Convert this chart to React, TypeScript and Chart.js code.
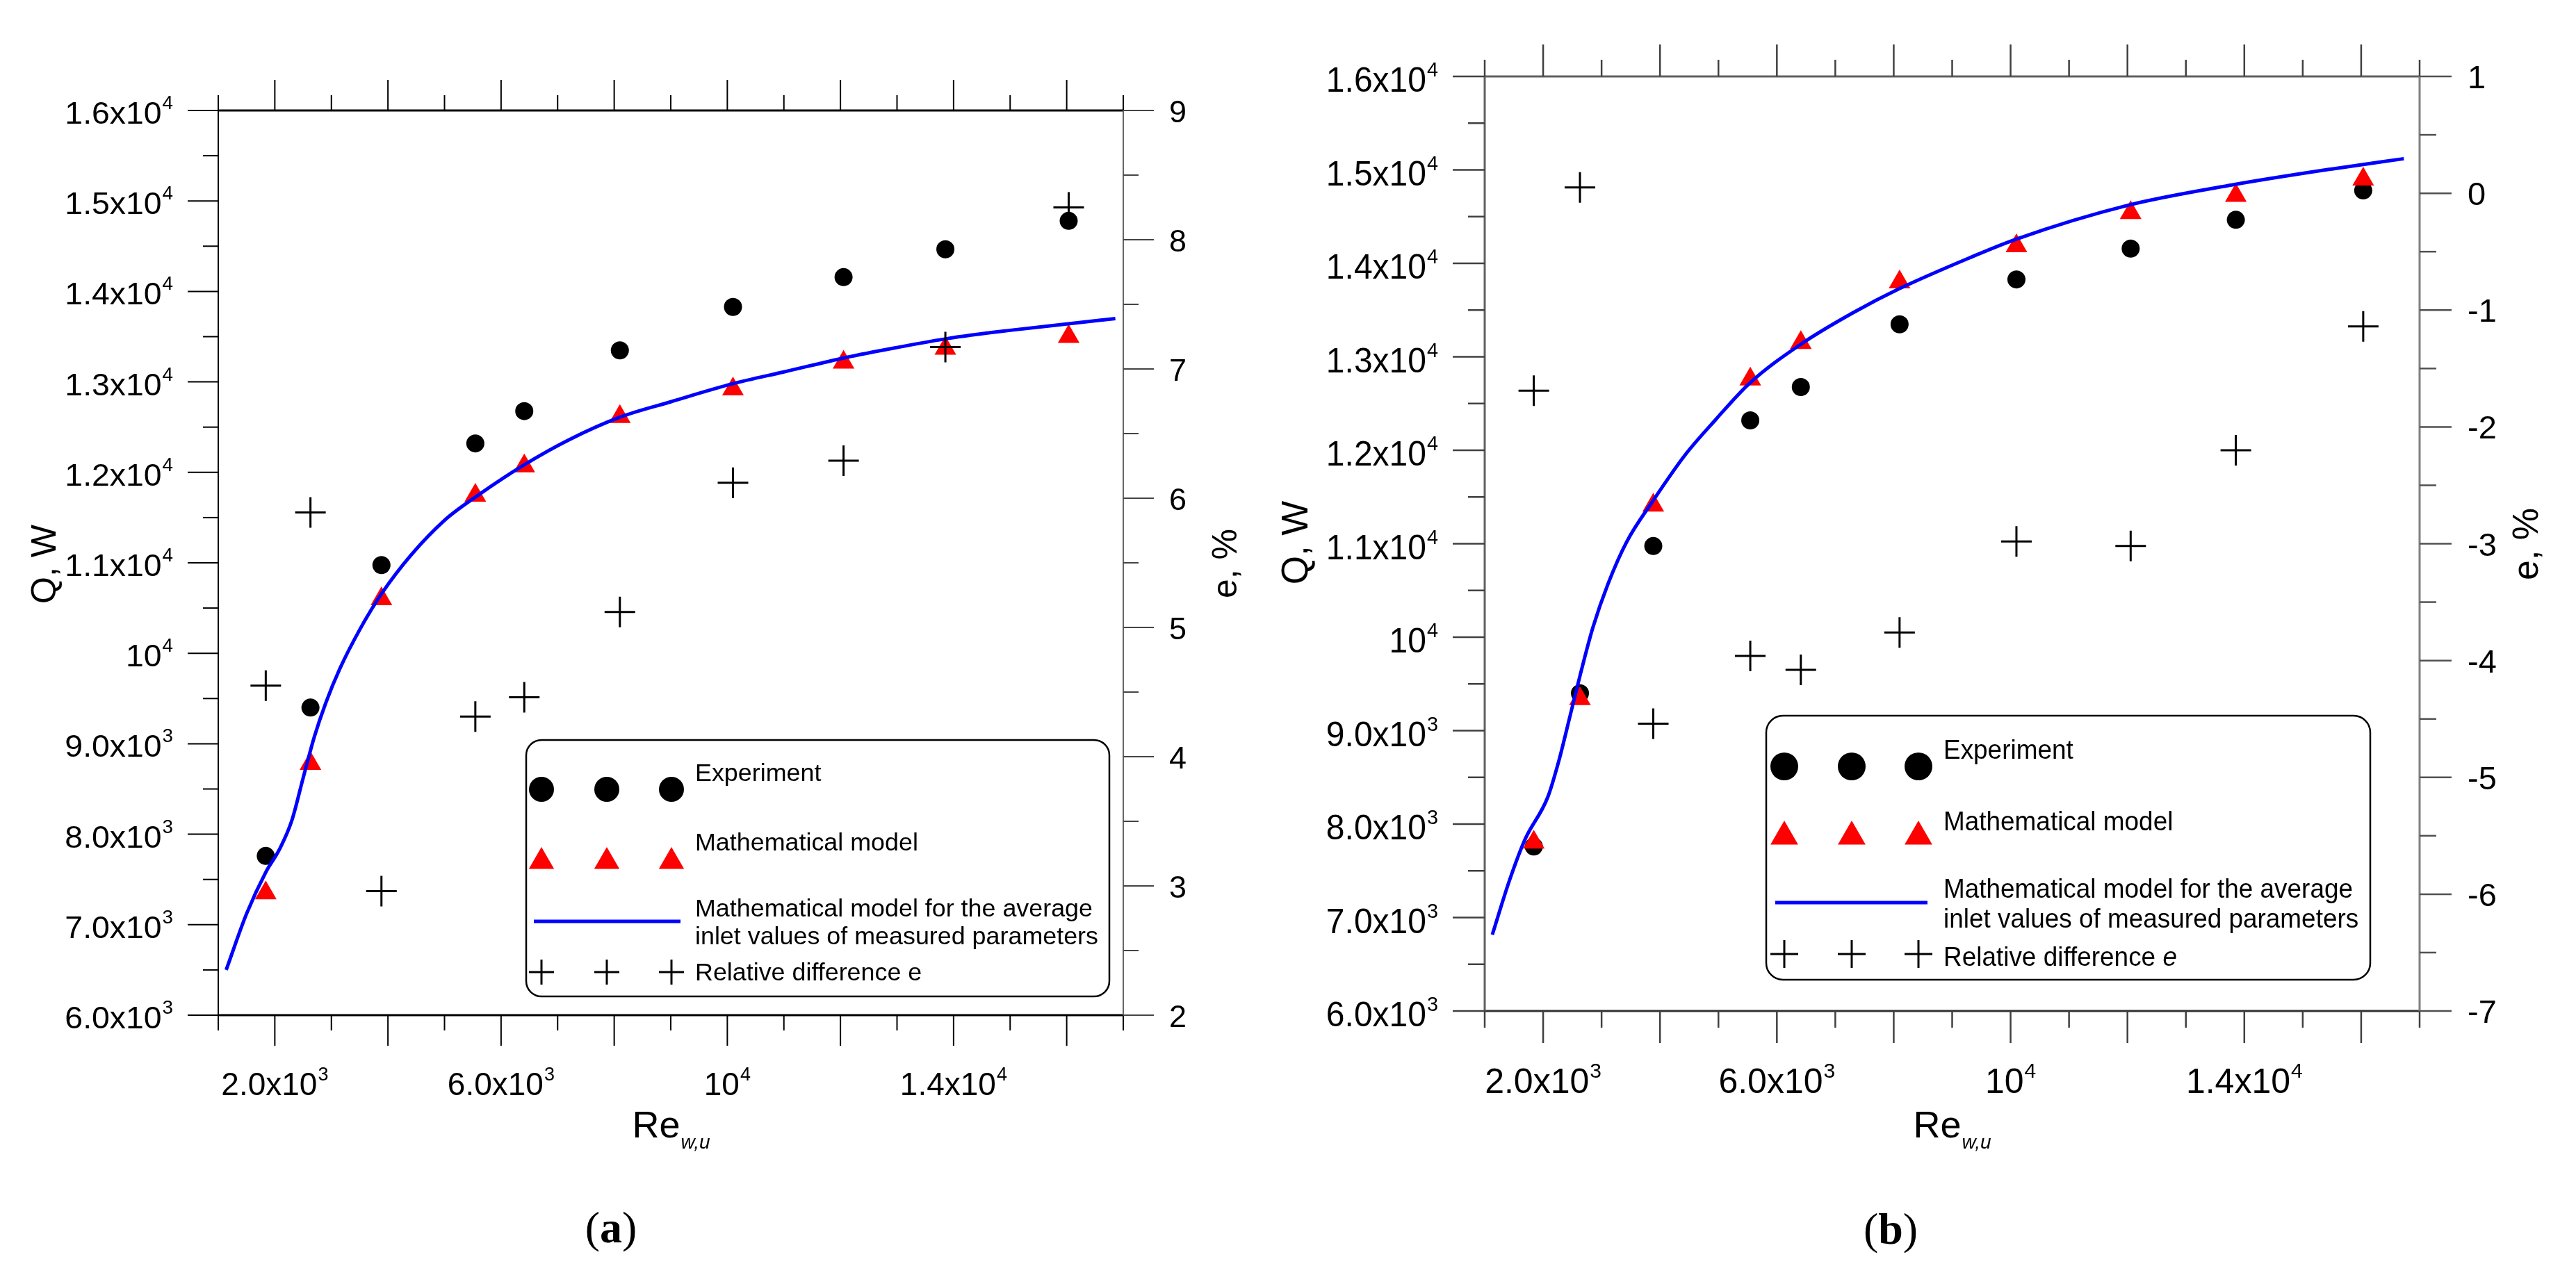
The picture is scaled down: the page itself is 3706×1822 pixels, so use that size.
import React, { useEffect, useRef } from 'react';
import { Chart, registerables } from 'chart.js';

Chart.register(...registerables);

// ---------------- data ----------------
const reExperiment = [1840, 2630, 3885, 5545, 6410, 8100, 10100, 12055, 13855, 16035];
const qExperiment = [7760, 9400, 10975, 12320, 12677, 13348, 13828, 14158, 14466, 14780];

const qModelA = [7350, 8780, 10600, 11745, 12070, 12615, 12920, 13215, 13370, 13500];
const eDiffA = [4.55, 5.89, 2.96, 4.31, 4.46, 5.12, 6.12, 6.29, 7.17, 8.25];
const lineReA = [1140, 1500, 1840, 2080, 2300, 2500, 2700, 2900, 3150, 3500, 3900, 4400, 5000, 5600, 6400, 7200, 8100, 9000, 10100, 11000, 12100, 13000, 13900, 15000, 16000, 16860];
const lineQA = [6500, 7120, 7580, 7830, 8150, 8620, 9080, 9450, 9830, 10260, 10670, 11080, 11470, 11750, 12080, 12360, 12610, 12780, 12980, 13110, 13270, 13380, 13480, 13570, 13640, 13700];

const qModelB = [7805, 9340, 11410, 12760, 13150, 13800, 14185, 14540, 14725, 14900];
const eDiffB = [-1.69, 0.05, -4.54, -3.96, -4.08, -3.76, -2.98, -3.02, -2.2, -1.14];
const lineReB = [1130, 1420, 1690, 2080, 2270, 2450, 2640, 2850, 3110, 3430, 3880, 4430, 4960, 5530, 6400, 7300, 8100, 9300, 10100, 12000, 13800, 15500, 16730];
const lineQB = [6816, 7390, 7836, 8290, 8680, 9130, 9610, 10100, 10570, 11020, 11459, 11950, 12333, 12715, 13130, 13470, 13730, 14060, 14260, 14620, 14840, 15010, 15120];

const reTickValues = [2000, 6000, 10000, 14000];
const reTickLabels = ['2.0x10^3', '6.0x10^3', '10^4', '1.4x10^4'];
const qTickValues = [6000, 7000, 8000, 9000, 10000, 11000, 12000, 13000, 14000, 15000, 16000];
const qTickLabels = ['6.0x10^3', '7.0x10^3', '8.0x10^3', '9.0x10^3', '10^4', '1.1x10^4', '1.2x10^4', '1.3x10^4', '1.4x10^4', '1.5x10^4', '1.6x10^4'];
const eTicksA = [2, 3, 4, 5, 6, 7, 8, 9];
const eTicksB = [-7, -6, -5, -4, -3, -2, -1, 0, 1];

const legendLabels = [
  'Experiment',
  'Mathematical model',
  'Mathematical model for the average',
  'inlet values of measured parameters',
  'Relative difference ',
];

// ---------------- styles / layout ----------------
const SANS = "'Liberation Sans', Arial, Helvetica, sans-serif";
const SERIF = "'Liberation Serif', 'DejaVu Serif', 'Times New Roman', serif";

const specA = {
  left: 0, w: 1840, h: 1822,
  yW: 314, y2W: 224, x2H: 159, xH: 361,
  eMin: 2, eMax: 9, eTicks: eTicksA,
  qModel: qModelA, eDiff: eDiffA, lineRe: lineReA, lineQ: lineQA,
  frame: { top: ['#000', 3], bottom: ['#000', 3], left: ['#000', 2], right: ['#666', 2] },
  tickColor: { x: '#000', y: '#000', y2: '#444' },
  tickMajor: 44, tickMinor: 22, tickWidth: 2,
  yLab: { font: 45, x: 249, dy: 19, supFont: 27, raise: 21, sx: 1.03 },
  xLab: { font: 46, baseY: 1576, supFont: 27, raise: 21, sx: 1.0 },
  eLab: { font: 45, x: 1682, dy: 17 },
  qTitle: { x: 62, y: 812, font: 50 },
  eTitle: { x: 1761, y: 811, font: 50 },
  reTitle: { x: 965, baseY: 1637, font: 54, subFont: 28, subDy: 16 },
  caption: { text: 'a', x: 879, baseY: 1788, font: 64 },
  legend: {
    box: [757, 1065, 839, 369, 22], boxW: 2.5,
    symX: [779, 873, 966], circleY: 1136, circleR: 18, triY: 1240, triR: 21,
    lineY: 1326, lineX: [768, 979], crossY: 1399, crossR: 18,
    textX: 1000, font: 35, refWidth: 572, baselines: [1124, 1224, 1319, 1359, 1411],
  },
  marker: { circleR: 13, triR: 18, crossR: 22, crossW: 3, lineW: 5 },
  italicE: false,
};

const specB = {
  left: 1840, w: 1866, h: 1822,
  yW: 296, y2W: 225, x2H: 110, xH: 367,
  eMin: -7, eMax: 1, eTicks: eTicksB,
  qModel: qModelB, eDiff: eDiffB, lineRe: lineReB, lineQ: lineQB,
  frame: { top: ['#606060', 3], bottom: ['#303030', 3], left: ['#606060', 3], right: ['#808080', 3] },
  tickColor: { x: '#404040', y: '#404040', y2: '#505050' },
  tickMajor: 46, tickMinor: 24, tickWidth: 2.5,
  yLab: { font: 50, x: 229, dy: 22, supFont: 30, raise: 22, sx: 0.96 },
  xLab: { font: 50, baseY: 1573, supFont: 30, raise: 22, sx: 1.0 },
  eLab: { font: 47, x: 1710, dy: 17 },
  qTitle: { x: 22, y: 781, font: 53 },
  eTitle: { x: 1792, y: 783, font: 52 },
  reTitle: { x: 968, baseY: 1637, font: 54, subFont: 28, subDy: 16 },
  caption: { text: 'b', x: 880, baseY: 1790, font: 64 },
  legend: {
    box: [701, 1030, 869, 380, 24], boxW: 2.5,
    symX: [727, 824, 920], circleY: 1103, circleR: 20, triY: 1204, triR: 23,
    lineY: 1299, lineX: [714, 933], crossY: 1373, crossR: 20,
    textX: 956, font: 39, refWidth: 589, baselines: [1092, 1195, 1292, 1335, 1390],
  },
  marker: { circleR: 13, triR: 18, crossR: 22, crossW: 3, lineW: 5 },
  italicE: true,
};

type Spec = typeof specA;

// ---------------- drawing helpers ----------------
function splitSup(label: string): [string, string] {
  const i = label.indexOf('^');
  return i < 0 ? [label, ''] : [label.slice(0, i), label.slice(i + 1)];
}

function drawSupLabel(ctx: CanvasRenderingContext2D, label: string, x: number, baseY: number,
  align: 'left' | 'right' | 'center', font: number, supFont: number, raise: number, sx: number) {
  const [base, sup] = splitSup(label);
  ctx.font = `${font}px ${SANS}`;
  const wb = ctx.measureText(base).width * sx;
  ctx.font = `${supFont}px ${SANS}`;
  const ws = sup ? ctx.measureText(sup).width * sx + 1 : 0;
  const total = wb + ws;
  const x0 = align === 'left' ? x : align === 'right' ? x - total : x - total / 2;
  ctx.textAlign = 'left';
  ctx.textBaseline = 'alphabetic';
  ctx.save();
  ctx.translate(x0, baseY);
  ctx.scale(sx, 1);
  ctx.font = `${font}px ${SANS}`;
  ctx.fillText(base, 0, 0);
  ctx.restore();
  if (sup) {
    ctx.save();
    ctx.translate(x0 + wb + 1, baseY - raise);
    ctx.scale(sx, 1);
    ctx.font = `${supFont}px ${SANS}`;
    ctx.fillText(sup, 0, 0);
    ctx.restore();
  }
}

function line(ctx: CanvasRenderingContext2D, x1: number, y1: number, x2: number, y2: number) {
  ctx.beginPath();
  ctx.moveTo(x1, y1);
  ctx.lineTo(x2, y2);
  ctx.stroke();
}

function drawMarker(ctx: CanvasRenderingContext2D, kind: string, x: number, y: number, r: number) {
  ctx.beginPath();
  if (kind === 'circle') {
    ctx.arc(x, y, r, 0, Math.PI * 2);
    ctx.fillStyle = '#000';
    ctx.fill();
  } else if (kind === 'triangle') {
    for (let k = 0; k < 3; k++) {
      const a = (k * 2 * Math.PI) / 3;
      const px = x + Math.sin(a) * r;
      const py = y - Math.cos(a) * r;
      if (k === 0) ctx.moveTo(px, py); else ctx.lineTo(px, py);
    }
    ctx.closePath();
    ctx.fillStyle = '#ff0000';
    ctx.fill();
  } else {
    ctx.moveTo(x - r, y); ctx.lineTo(x + r, y);
    ctx.moveTo(x, y - r); ctx.lineTo(x, y + r);
    ctx.strokeStyle = '#000';
    ctx.lineWidth = 3;
    ctx.stroke();
  }
}

function roundRect(ctx: CanvasRenderingContext2D, x: number, y: number, w: number, h: number, r: number) {
  ctx.beginPath();
  ctx.moveTo(x + r, y);
  ctx.arcTo(x + w, y, x + w, y + h, r);
  ctx.arcTo(x + w, y + h, x, y + h, r);
  ctx.arcTo(x, y + h, x, y, r);
  ctx.arcTo(x, y, x + w, y, r);
  ctx.closePath();
}

function makeDecor(spec: Spec) {
  return {
    id: 'decor',
    afterDraw(chart: any) {
      const ctx: CanvasRenderingContext2D = chart.ctx;
      const a = chart.chartArea;
      const sx = chart.scales.x;
      const sy = chart.scales.y;
      const sy2 = chart.scales.y2;
      ctx.save();
      ctx.lineCap = 'butt';

      // frame
      const f = spec.frame;
      ctx.strokeStyle = f.top[0] as string; ctx.lineWidth = f.top[1] as number; line(ctx, a.left, a.top, a.right, a.top);
      ctx.strokeStyle = f.bottom[0] as string; ctx.lineWidth = f.bottom[1] as number; line(ctx, a.left, a.bottom, a.right, a.bottom);
      ctx.strokeStyle = f.left[0] as string; ctx.lineWidth = f.left[1] as number; line(ctx, a.left, a.top, a.left, a.bottom);
      ctx.strokeStyle = f.right[0] as string; ctx.lineWidth = f.right[1] as number; line(ctx, a.right, a.top, a.right, a.bottom);

      // tick marks
      ctx.lineWidth = spec.tickWidth;
      ctx.strokeStyle = spec.tickColor.x;
      for (let v = sx.min; v <= sx.max + 1e-6; v += 1000) {
        const len = v % 2000 === 0 ? spec.tickMajor : spec.tickMinor;
        const px = sx.getPixelForValue(v);
        line(ctx, px, a.bottom, px, a.bottom + len);
        line(ctx, px, a.top, px, a.top - len);
      }
      ctx.strokeStyle = spec.tickColor.y;
      for (let v = sy.min; v <= sy.max + 1e-6; v += 500) {
        const len = v % 1000 === 0 ? spec.tickMajor : spec.tickMinor;
        const py = sy.getPixelForValue(v);
        line(ctx, a.left - len, py, a.left, py);
      }
      ctx.strokeStyle = spec.tickColor.y2;
      for (let v = sy2.min; v <= sy2.max + 1e-6; v += 0.5) {
        const len = Math.abs(v - Math.round(v)) < 1e-6 ? spec.tickMajor : spec.tickMinor;
        const py = sy2.getPixelForValue(v);
        line(ctx, a.right, py, a.right + len, py);
      }

      // tick labels
      ctx.fillStyle = '#000';
      qTickValues.forEach((v, i) => {
        const py = sy.getPixelForValue(v);
        const L = spec.yLab;
        drawSupLabel(ctx, qTickLabels[i], L.x, py + L.dy, 'right', L.font, L.supFont, L.raise, L.sx);
      });
      reTickValues.forEach((v, i) => {
        const px = sx.getPixelForValue(v);
        const L = spec.xLab;
        drawSupLabel(ctx, reTickLabels[i], px, L.baseY, 'center', L.font, L.supFont, L.raise, L.sx);
      });
      spec.eTicks.forEach((v) => {
        const py = sy2.getPixelForValue(v);
        const L = spec.eLab;
        ctx.font = `${L.font}px ${SANS}`;
        ctx.textAlign = 'left';
        ctx.textBaseline = 'alphabetic';
        ctx.fillText(String(v), L.x, py + L.dy);
      });

      // axis titles
      const rot = (text: string, x: number, y: number, font: number) => {
        ctx.save();
        ctx.translate(x, y);
        ctx.rotate(-Math.PI / 2);
        ctx.font = `${font}px ${SANS}`;
        ctx.textAlign = 'center';
        ctx.textBaseline = 'alphabetic';
        ctx.fillText(text, 0, font * 0.358);
        ctx.restore();
      };
      rot('Q, W', spec.qTitle.x, spec.qTitle.y, spec.qTitle.font);
      rot('e, %', spec.eTitle.x, spec.eTitle.y, spec.eTitle.font);

      const R = spec.reTitle;
      ctx.font = `${R.font}px ${SANS}`;
      const wRe = ctx.measureText('Re').width;
      ctx.font = `italic ${R.subFont}px ${SANS}`;
      const wSub = ctx.measureText('w,u').width;
      const rx0 = R.x - (wRe + wSub) / 2;
      ctx.textAlign = 'left';
      ctx.font = `${R.font}px ${SANS}`;
      ctx.fillText('Re', rx0, R.baseY);
      ctx.font = `italic ${R.subFont}px ${SANS}`;
      ctx.fillText('w,u', rx0 + wRe + 1, R.baseY + R.subDy);

      // caption "(a)" / "(b)"
      const C = spec.caption;
      ctx.font = `${C.font}px ${SERIF}`;
      const wp = ctx.measureText('(').width;
      const wp2 = ctx.measureText(')').width;
      ctx.font = `bold ${C.font}px ${SERIF}`;
      const wl = ctx.measureText(C.text).width;
      const cx0 = C.x - (wp + wl + wp2) / 2;
      ctx.font = `${C.font}px ${SERIF}`;
      ctx.fillText('(', cx0, C.baseY);
      ctx.fillText(')', cx0 + wp + wl, C.baseY);
      ctx.font = `bold ${C.font}px ${SERIF}`;
      ctx.fillText(C.text, cx0 + wp, C.baseY);

      // legend
      const G = spec.legend;
      const [bx, by, bw, bh, br] = G.box;
      roundRect(ctx, bx, by, bw, bh, br);
      ctx.fillStyle = '#fff';
      ctx.fill();
      ctx.strokeStyle = '#000';
      ctx.lineWidth = G.boxW;
      ctx.stroke();
      G.symX.forEach((x) => {
        drawMarker(ctx, 'circle', x, G.circleY, G.circleR);
        drawMarker(ctx, 'triangle', x, G.triY, G.triR);
        drawMarker(ctx, 'cross', x, G.crossY, G.crossR);
      });
      ctx.strokeStyle = '#0000ff';
      ctx.lineWidth = spec.marker.lineW;
      line(ctx, G.lineX[0], G.lineY, G.lineX[1], G.lineY);

      ctx.fillStyle = '#000';
      ctx.font = `${G.font}px ${SANS}`;
      const scaleX = G.refWidth / ctx.measureText(legendLabels[2]).width;
      legendLabels.forEach((t, i) => {
        ctx.save();
        ctx.translate(G.textX, G.baselines[i]);
        ctx.scale(scaleX, 1);
        ctx.font = `${G.font}px ${SANS}`;
        ctx.textAlign = 'left';
        ctx.textBaseline = 'alphabetic';
        ctx.fillText(t, 0, 0);
        if (i === 4) {
          const wt = ctx.measureText(t).width;
          ctx.font = `${spec.italicE ? 'italic ' : ''}${G.font}px ${SANS}`;
          ctx.fillText('e', wt, 0);
        }
        ctx.restore();
      });

      ctx.restore();
    },
  };
}

function buildConfig(spec: Spec): any {
  const hidden = { display: false };
  const common = {
    type: 'linear',
    ticks: { display: false },
    grid: { display: false, drawTicks: false },
    border: { display: false },
    title: hidden,
  };
  const m = spec.marker;
  return {
    type: 'scatter',
    data: {
      datasets: [
        {
          label: 'Relative difference e',
          data: reExperiment.map((x, i) => ({ x, y: spec.eDiff[i] })),
          xAxisID: 'x', yAxisID: 'y2',
          pointStyle: 'cross', pointRadius: m.crossR, borderColor: '#000', borderWidth: m.crossW,
          backgroundColor: '#000', showLine: false, order: 0,
        },
        {
          label: 'Mathematical model for the average inlet values of measured parameters',
          data: spec.lineRe.map((x, i) => ({ x, y: spec.lineQ[i] })),
          xAxisID: 'x', yAxisID: 'y',
          showLine: true, pointRadius: 0, borderColor: '#0000ff', borderWidth: m.lineW,
          tension: 0.4, cubicInterpolationMode: 'monotone', fill: false, order: 1,
        },
        {
          label: 'Mathematical model',
          data: reExperiment.map((x, i) => ({ x, y: spec.qModel[i] })),
          xAxisID: 'x', yAxisID: 'y',
          pointStyle: 'triangle', pointRadius: m.triR, backgroundColor: '#ff0000', borderColor: '#ff0000',
          borderWidth: 0, showLine: false, order: 2,
        },
        {
          label: 'Experiment',
          data: reExperiment.map((x, i) => ({ x, y: qExperiment[i] })),
          xAxisID: 'x', yAxisID: 'y',
          pointStyle: 'circle', pointRadius: m.circleR, backgroundColor: '#000', borderColor: '#000',
          borderWidth: 0, showLine: false, order: 3,
        },
      ],
    },
    options: {
      animation: false,
      responsive: false,
      maintainAspectRatio: false,
      events: [],
      layout: { padding: 0 },
      plugins: { legend: hidden, tooltip: { enabled: false }, title: hidden },
      scales: {
        x: { ...common, position: 'bottom', min: 1000, max: 17000, afterFit: (s: any) => { s.height = spec.xH; } },
        x2: { ...common, position: 'top', min: 1000, max: 17000, afterFit: (s: any) => { s.height = spec.x2H; } },
        y: { ...common, position: 'left', min: 6000, max: 16000, afterFit: (s: any) => { s.width = spec.yW; } },
        y2: { ...common, position: 'right', min: spec.eMin, max: spec.eMax, afterFit: (s: any) => { s.width = spec.y2W; } },
      },
    },
    plugins: [makeDecor(spec)],
  };
}

function Panel({ spec }: { spec: Spec }) {
  const ref = useRef<HTMLCanvasElement>(null);
  useEffect(() => {
    const chart = new Chart(ref.current as HTMLCanvasElement, buildConfig(spec));
    return () => chart.destroy();
  }, [spec]);
  return (
    <canvas
      ref={ref}
      width={spec.w}
      height={spec.h}
      style={{ position: 'absolute', left: spec.left, top: 0, width: spec.w, height: spec.h }}
    />
  );
}

export default function App() {
  return (
    <div style={{ position: 'absolute', left: 0, top: 0, width: 3706, height: 1822, background: '#fff', overflow: 'hidden' }}>
      <Panel spec={specA} />
      <Panel spec={specB} />
    </div>
  );
}
